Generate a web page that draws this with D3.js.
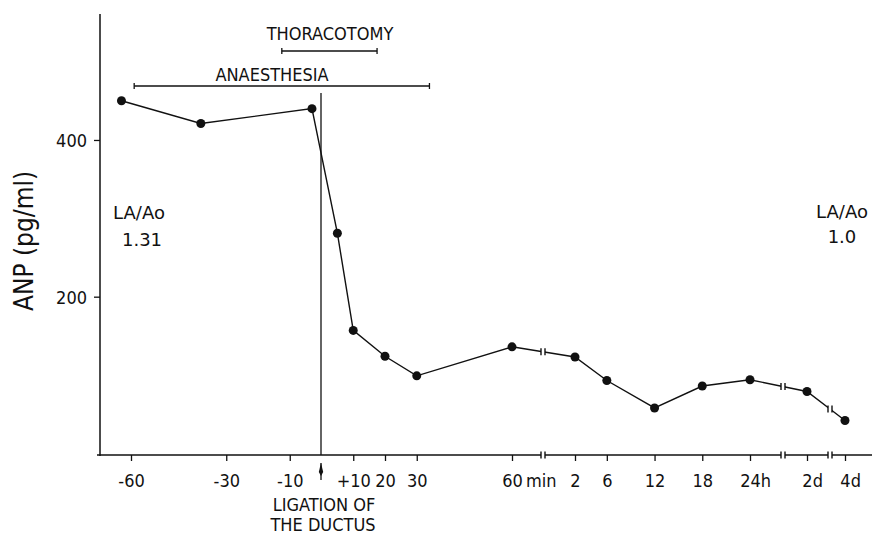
<!DOCTYPE html>
<html>
<head>
<meta charset="utf-8">
<script src="https://cdn.jsdelivr.net/npm/d3@7"></script>
<style>
  body { margin: 0; background: #fff; }
  svg text { font-family: "DejaVu Sans Condensed", "DejaVu Sans", sans-serif; fill: #111; }
</style>
</head>
<body>
<svg></svg>
<script>
var width = 873;
var height = 535;

// ANP readings, split by time unit of the broken x axis
var minTimes = [-63, -38, -3, 5, 10, 20, 30, 60];
var minValues = [450, 421, 440, 281, 157, 124, 99, 136];
var hourTimes = [2, 6, 12, 18, 24];
var hourValues = [123, 93, 58, 86, 94];
var dayTimes = [2, 4];
var dayValues = [79, 42];

var minTicks = [-60, -30, -10, 10, 20, 30, 60];
var minLabels = ["-60", "-30", "-10", "+10", "20", "30", "60|min"];
var hourTicks = [2, 6, 12, 18, 24];
var hourLabels = ["2", "6", "12", "18", "24|h"];
var dayTicks = [2, 4];
var dayLabels = ["2|d", "4|d"];
var yTicks = [200, 400];

// periods drawn as bars above the curve (minutes)
var periodNames = ["ANAESTHESIA", "THORACOTOMY"];
var periodStart = [-59, -12.5];
var periodEnd = [34, 17.5];

var axisY = 455;
var breaksX = [543, 783, 830];

var svg = d3.select("svg")
    .attr("width", width)
    .attr("height", height);

var xMin = d3.scaleLinear().domain([-60, 60]).range([131, 512]);
var xHour = d3.scaleLinear().domain([2, 24]).range([575, 750]);
var xDay = d3.scaleLinear().domain([2, 4]).range([807, 845]);
var y = d3.scaleLinear().domain([0, 560]).range([453.4, 14.6]);

var points = []
  .concat(minTimes.map((t, i) => [xMin(t), y(minValues[i])]))
  .concat(hourTimes.map((t, i) => [xHour(t), y(hourValues[i])]))
  .concat(dayTimes.map((t, i) => [xDay(t), y(dayValues[i])]));

// axes lines
svg.append("line")
    .attr("x1", 100).attr("x2", 100)
    .attr("y1", 14).attr("y2", axisY + 1)
    .attr("stroke", "#111").attr("stroke-width", 1.5);

svg.append("line")
    .attr("x1", 97).attr("x2", 872)
    .attr("y1", axisY).attr("y2", axisY)
    .attr("stroke", "#111").attr("stroke-width", 1.5);

// y axis ticks
var yAxis = svg.append("g")
    .attr("transform", "translate(100,0)")
    .call(d3.axisLeft(y).tickValues(yTicks).tickSize(6).tickPadding(7));
yAxis.select(".domain").remove();
yAxis.selectAll("line").attr("stroke", "#111").attr("stroke-width", 1.3);
yAxis.selectAll("text")
    .style("font-size", "18px")
    .attr("dy", "0.36em");

// x axis, one piece per time unit
function xPiece(scale, ticks, labels) {
  var g = svg.append("g")
      .attr("transform", `translate(0,${axisY})`)
      .call(d3.axisBottom(scale).tickValues(ticks).tickSize(6)
        .tickFormat((d, i) => labels[i]));
  g.select(".domain").remove();
  g.selectAll("line").attr("stroke", "#111").attr("stroke-width", 1.3);
  g.selectAll("text")
      .style("font-size", "18px")
      .attr("y", 32)
      .attr("dy", null)
      .each(function(d, i) {
        var parts = labels[i].split("|");
        var t = d3.select(this).text(parts[0]);
        if (parts.length > 1) {
          var w = this.getComputedTextLength();
          t.attr("text-anchor", "start")
           .attr("x", -w / 2)
           .text(parts[0] + (parts[1] == "min" ? "\u2009" : "") + parts[1]);
        }
      });
}
xPiece(xMin, minTicks, minLabels);
xPiece(xHour, hourTicks, hourLabels);
xPiece(xDay, dayTicks, dayLabels);

// ligation line and arrow
var x0 = xMin(0) - 0.5;
svg.append("line")
    .attr("x1", x0).attr("x2", x0)
    .attr("y1", 93).attr("y2", axisY)
    .attr("stroke", "#111").attr("stroke-width", 1.3);
svg.append("line")
    .attr("x1", x0).attr("x2", x0)
    .attr("y1", 463).attr("y2", 480)
    .attr("stroke", "#111").attr("stroke-width", 1.3);
svg.append("path")
    .attr("d", `M${x0},463 L${x0 + 2.2},472 L${x0},476 L${x0 - 2.2},472 Z`)
    .attr("fill", "#111");

svg.append("text")
    .attr("x", 324).attr("y", 511)
    .attr("text-anchor", "middle")
    .style("font-size", "18px")
    .text("LIGATION OF");
svg.append("text")
    .attr("x", 323).attr("y", 531)
    .attr("text-anchor", "middle")
    .style("font-size", "18px")
    .text("THE DUCTUS");

// period bars
var barY = [86, 51];
var labelX = [272, 330];
var labelY = [81, 40];
periodNames.forEach(function(name, i) {
  var a = xMin(periodStart[i]), b = xMin(periodEnd[i]);
  svg.append("line")
      .attr("x1", a).attr("x2", b)
      .attr("y1", barY[i]).attr("y2", barY[i])
      .attr("stroke", "#111").attr("stroke-width", 1.3);
  [a, b].forEach(function(x) {
    svg.append("line")
        .attr("x1", x).attr("x2", x)
        .attr("y1", barY[i] - 3).attr("y2", barY[i] + 3)
        .attr("stroke", "#111").attr("stroke-width", 1.3);
  });
  svg.append("text")
      .attr("x", labelX[i]).attr("y", labelY[i])
      .attr("text-anchor", "middle")
      .style("font-size", "18px")
      .text(name);
});

// data curve
svg.append("path")
    .datum(points)
    .attr("fill", "none")
    .attr("stroke", "#111")
    .attr("stroke-width", 1.4)
    .attr("d", d3.line());

// axis breaks and curve breaks
function breakMark(bx, by) {
  svg.append("rect")
      .attr("x", bx - 2).attr("y", by - 2)
      .attr("width", 4).attr("height", 4)
      .attr("fill", "#fff");
  [bx - 2, bx + 2].forEach(function(x) {
    svg.append("line")
        .attr("x1", x).attr("x2", x)
        .attr("y1", by - 3.5).attr("y2", by + 3.5)
        .attr("stroke", "#111").attr("stroke-width", 1.4);
  });
}
breaksX.forEach(function(bx) {
  breakMark(bx, axisY);
  var k = points.findIndex(p => p[0] > bx);
  var p0 = points[k - 1], p1 = points[k];
  var by = p0[1] + (p1[1] - p0[1]) * (bx - p0[0]) / (p1[0] - p0[0]);
  breakMark(bx, by);
});

svg.selectAll("circle.dot")
  .data(points)
  .enter()
  .append("circle")
    .classed("dot", true)
    .attr("cx", d => d[0])
    .attr("cy", d => d[1])
    .attr("r", 4.5)
    .attr("fill", "#111");

// y label
svg.append("text")
    .attr("transform", "translate(33,241) rotate(-90)")
    .attr("text-anchor", "middle")
    .style("font-size", "26px")
    .text("ANP (pg/ml)");

// LA/Ao ratios
[[139, "LA/Ao", 219], [142, "1.31", 246], [842, "LA/Ao", 218], [842, "1.0", 243]].forEach(function(d) {
  svg.append("text")
      .attr("x", d[0]).attr("y", d[2])
      .attr("text-anchor", "middle")
      .style("font-family", "'DejaVu Sans', sans-serif")
      .style("font-size", "18px")
      .text(d[1]);
});
</script>
</body>
</html>
